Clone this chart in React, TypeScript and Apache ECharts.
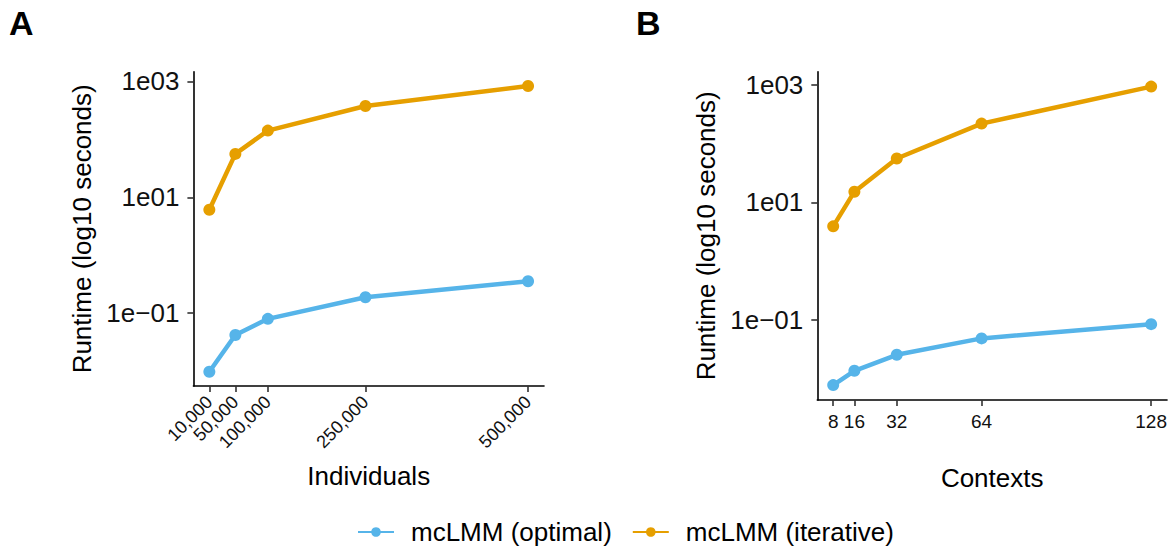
import React, { useEffect, useRef } from "react";
import * as echarts from "echarts";

// Panel A: runtime vs number of individuals
const individuals = [10000, 50000, 100000, 250000, 500000];
const optimalA = [0.0098, 0.042, 0.08, 0.189, 0.356];
const iterativeA = [6.1, 56, 141, 375, 830];

// Panel B: runtime vs number of contexts
const contexts = [8, 16, 32, 64, 128];
const optimalB = [0.0079, 0.0138, 0.0258, 0.049, 0.0855];
const iterativeB = [3.92, 15.2, 55.7, 218, 925];

const yTickValues = [0.1, 10, 1000];
const seriesNames = ["mcLMM (optimal)", "mcLMM (iterative)"];
const colors = ["#56B4E9", "#E69F00"];

const FONT = "'Liberation Sans', Arial, Helvetica, sans-serif";

function expand(values: number[]): [number, number] {
  const lo = Math.min(...values);
  const hi = Math.max(...values);
  const pad = (hi - lo) * 0.05;
  return [lo - pad, hi + pad];
}

function fmtLog(v: number): string {
  const e = Math.round(v);
  const s = String(Math.abs(e)).padStart(2, "0");
  return "1e" + (e < 0 ? "\u2212" : "") + s;
}

export default function App() {
  const ref = useRef<HTMLDivElement>(null);
  useEffect(() => {
    if (!ref.current) return;
    const chart = echarts.init(ref.current, null, { renderer: "svg" });

    const logA = [...optimalA, ...iterativeA].map(Math.log10);
    const logB = [...optimalB, ...iterativeB].map(Math.log10);
    const [yAmin, yAmax] = expand(logA);
    const [yBmin, yBmax] = expand(logB);
    const [xAmin, xAmax] = expand(individuals);
    const [xBmin, xBmax] = expand(contexts);
    const yTicks = yTickValues.map(Math.log10);

    const axisLine = { show: true, onZero: false, lineStyle: { color: "#000", width: 1.6 } };
    const axisTick = { show: true, length: 6, lineStyle: { color: "#333", width: 1.6 } };

    const yAxisCommon = (idx: number, min: number, max: number) => ({
      type: "value",
      gridIndex: idx,
      min,
      max,
      name: "Runtime (log10 seconds)",
      nameLocation: "middle",
      nameGap: 98,
      nameTextStyle: { fontFamily: FONT, fontSize: 26, color: "#000" },
      axisLine,
      axisTick: { ...axisTick, customValues: yTicks },
      axisLabel: {
        customValues: yTicks,
        formatter: fmtLog,
        fontFamily: FONT,
        fontSize: 26,
        color: "#111",
        margin: 14,
        hideOverlap: false,
      },
      splitLine: { show: false },
    });

    const mkSeries = (name: string, color: string, xs: number[], ys: number[], idx: number) => ({
      type: "line",
      name,
      xAxisIndex: idx,
      yAxisIndex: idx,
      data: xs.map((x, i) => [x, Math.log10(ys[i])]),
      symbol: "circle",
      symbolSize: 12,
      showSymbol: true,
      lineStyle: { color, width: 4.5 },
      itemStyle: { color },
      z: name === seriesNames[0] ? 3 : 2,
    });

    chart.setOption({
      animation: false,
      backgroundColor: "#fff",
      grid: [
        { left: 193.4, top: 71.7, width: 350.6, height: 314.3 },
        { left: 817.3, top: 71.7, width: 351.4, height: 328.3 },
      ],
      xAxis: [
        {
          type: "value",
          gridIndex: 0,
          min: xAmin,
          max: xAmax,
          name: "Individuals",
          nameLocation: "middle",
          nameGap: 77,
          nameTextStyle: { fontFamily: FONT, fontSize: 26, color: "#000" },
          axisLine,
          axisTick: { ...axisTick, customValues: individuals },
          axisLabel: {
            customValues: individuals,
            formatter: (v: number) => v.toLocaleString("en-US"),
            rotate: 45,
            fontFamily: FONT,
            fontSize: 18,
            color: "#111",
            margin: 13,
            hideOverlap: false,
          },
          splitLine: { show: false },
        },
        {
          type: "value",
          gridIndex: 1,
          min: xBmin,
          max: xBmax,
          name: "Contexts",
          nameLocation: "middle",
          nameGap: 65,
          nameTextStyle: { fontFamily: FONT, fontSize: 26, color: "#000" },
          axisLine,
          axisTick: { ...axisTick, customValues: contexts },
          axisLabel: {
            customValues: contexts,
            formatter: (v: number) => String(v),
            fontFamily: FONT,
            fontSize: 19,
            color: "#111",
            margin: 12,
            hideOverlap: false,
          },
          splitLine: { show: false },
        },
      ],
      yAxis: [yAxisCommon(0, yAmin, yAmax), yAxisCommon(1, yBmin, yBmax)],
      legend: {
        data: seriesNames,
        left: 352,
        top: 514,
        orient: "horizontal",
        itemWidth: 36,
        itemHeight: 12,
        itemGap: 20,
        textStyle: { fontFamily: FONT, fontSize: 26, color: "#000", padding: [0, 0, 0, 12] },
      },
      graphic: [
        {
          type: "text",
          left: 9,
          top: 6,
          style: { text: "A", font: `bold 34px ${FONT}`, fill: "#000" },
        },
        {
          type: "text",
          left: 636,
          top: 6,
          style: { text: "B", font: `bold 34px ${FONT}`, fill: "#000" },
        },
      ],
      series: [
        mkSeries(seriesNames[0], colors[0], individuals, optimalA, 0),
        mkSeries(seriesNames[1], colors[1], individuals, iterativeA, 0),
        mkSeries(seriesNames[0], colors[0], contexts, optimalB, 1),
        mkSeries(seriesNames[1], colors[1], contexts, iterativeB, 1),
      ],
    });
    return () => chart.dispose();
  }, []);

  return (
    <div
      ref={ref}
      style={{ position: "fixed", left: 0, top: 0, width: 1170, height: 548, background: "#fff" }}
    />
  );
}
